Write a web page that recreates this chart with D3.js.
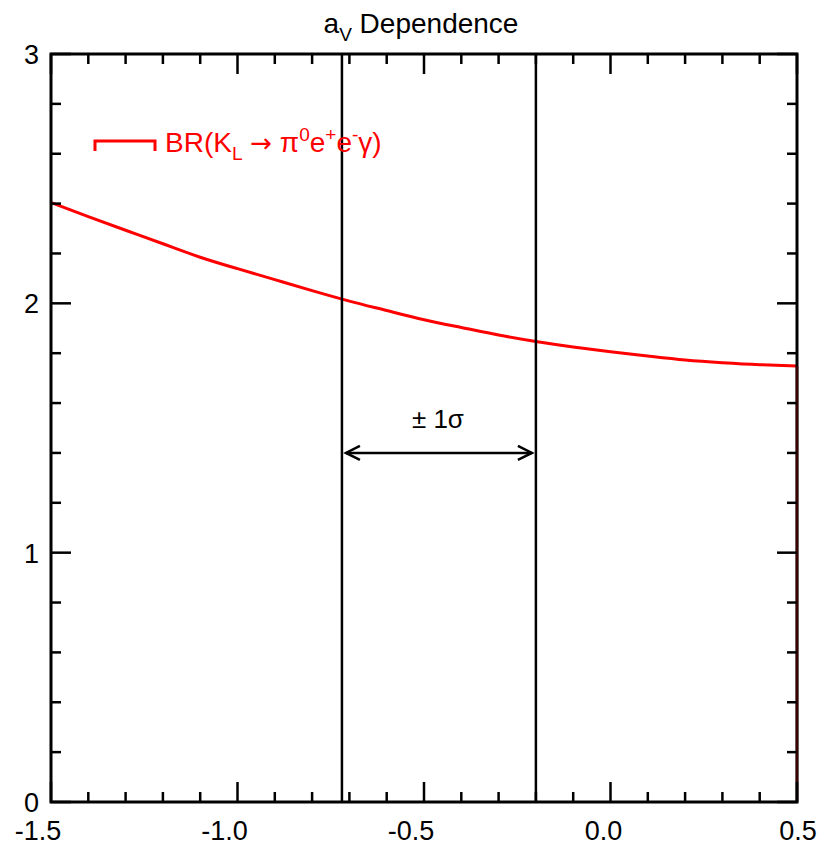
<!DOCTYPE html>
<html>
<head>
<meta charset="utf-8">
<script src="https://cdn.jsdelivr.net/npm/d3@7"></script>
<style>
  html, body { margin: 0; padding: 0; background: #fff; }
  svg { display: block; }
  text { font-family: "Liberation Sans", Arial, Helvetica, sans-serif; }
</style>
</head>
<body>
<script>
// a_V values and the corresponding branching ratio (units of 1e-8)
const aV = [-1.5, -1.4, -1.3, -1.2, -1.1, -1.0, -0.9, -0.8, -0.7, -0.6, -0.5,
            -0.4, -0.3, -0.2, -0.1, 0.0, 0.1, 0.2, 0.3, 0.4, 0.5];
const br = [2.404, 2.348, 2.293, 2.239, 2.185, 2.139, 2.095, 2.051, 2.009, 1.971, 1.934,
            1.903, 1.873, 1.847, 1.825, 1.806, 1.789, 1.773, 1.762, 1.754, 1.749];

// ±1σ band edges on a_V
const sigmaEdges = [-0.72, -0.20];

const xTickLabels = ["-1.5", "-1.0", "-0.5", "0.0", "0.5"];
const xTickValues = [-1.5, -1.0, -0.5, 0.0, 0.5];
const yTickLabels = ["0", "1", "2", "3"];
const yTickValues = [0, 1, 2, 3];

const W = 820, H = 845;
const margin = { left: 51, right: 23, top: 54, bottom: 43 };
const iw = W - margin.left - margin.right;
const ih = H - margin.top - margin.bottom;

const svg = d3.select("body").append("svg").attr("width", W).attr("height", H);
const g = svg.append("g").attr("transform", `translate(${margin.left},${margin.top})`);

const x = d3.scaleLinear().domain([-1.5, 0.5]).range([0, iw]);
const y = d3.scaleLinear().domain([0, 3]).range([ih, 0]);

const FS = 28, SUB = 19, LW = 2.5;

// curve
const pts = aV.map((v, i) => [v, br[i]]);
g.append("path")
  .datum(pts)
  .attr("fill", "none")
  .attr("stroke", "#ff0000")
  .attr("stroke-width", 3)
  .attr("d", d3.line().curve(d3.curveNatural).x(d => x(d[0])).y(d => y(d[1])));

// sigma lines
g.selectAll(".sig").data(sigmaEdges).enter().append("line")
  .attr("x1", d => x(d)).attr("x2", d => x(d))
  .attr("y1", 0).attr("y2", ih)
  .attr("stroke", "#000").attr("stroke-width", LW);

// frame
g.append("rect").attr("x", 0).attr("y", 0).attr("width", iw).attr("height", ih)
  .attr("fill", "none").attr("stroke", "#000").attr("stroke-width", LW + 0.5);

// curve closing edge along the right border, down to zero
g.append("line")
  .attr("x1", x(aV[aV.length - 1])).attr("x2", x(aV[aV.length - 1]))
  .attr("y1", y(br[br.length - 1])).attr("y2", y(0))
  .attr("stroke", "#3a0000").attr("stroke-width", 2.5);

// ticks (inward on all four sides), minor every 0.1 / 0.2
const xMinor = d3.range(-1.5, 0.5001, 0.1).map(v => +v.toFixed(2));
const yMinor = d3.range(0, 3.0001, 0.2).map(v => +v.toFixed(2));
const isMajorX = v => xTickValues.some(t => Math.abs(t - v) < 1e-6);
const isMajorY = v => yTickValues.some(t => Math.abs(t - v) < 1e-6);

const tickG = g.append("g").attr("class", "ticks");
xMinor.forEach(v => {
  const L = isMajorX(v) ? 20 : 10;
  tickG.append("line").attr("x1", x(v)).attr("x2", x(v)).attr("y1", ih).attr("y2", ih - L)
    .attr("stroke", "#000").attr("stroke-width", LW);
  tickG.append("line").attr("x1", x(v)).attr("x2", x(v)).attr("y1", 0).attr("y2", L)
    .attr("stroke", "#000").attr("stroke-width", LW);
});
yMinor.forEach(v => {
  const L = isMajorY(v) ? 20 : 10;
  tickG.append("line").attr("x1", 0).attr("x2", L).attr("y1", y(v)).attr("y2", y(v))
    .attr("stroke", "#000").attr("stroke-width", LW);
  tickG.append("line").attr("x1", iw).attr("x2", iw - L).attr("y1", y(v)).attr("y2", y(v))
    .attr("stroke", "#000").attr("stroke-width", LW);
});

// tick labels; signed labels sit slightly left of their tick
const labelShift = v => (v < 0 ? -13 : v === 0 ? -7 : 1);
g.selectAll(".xl").data(xTickValues).enter().append("text")
  .attr("x", d => x(d) + labelShift(d)).attr("y", ih + 38)
  .attr("text-anchor", "middle").attr("font-size", 27)
  .text((d, i) => xTickLabels[i]);
g.selectAll(".yl").data(yTickValues).enter().append("text")
  .attr("x", -12).attr("y", d => y(d) + 10)
  .attr("text-anchor", "end").attr("font-size", 27)
  .text((d, i) => yTickLabels[i]);

// title
const title = svg.append("text").attr("x", margin.left + iw / 2 - 3).attr("y", 33)
  .attr("text-anchor", "middle").attr("font-size", FS);
title.append("tspan").text("a");
title.append("tspan").attr("font-size", SUB).attr("dy", 8).text("V");
title.append("tspan").attr("dy", -8).text(" Dependence");

// legend
const lg = g.append("g").attr("transform", `translate(${95 - margin.left},${141 - margin.top})`);
lg.append("path").attr("d", "M0,10V0H60V10").attr("fill", "none")
  .attr("stroke", "#ff0000").attr("stroke-width", 3);
const lt = lg.append("text").attr("x", 70).attr("y", 11).attr("font-size", FS).attr("fill", "#ff0000");
lt.append("tspan").text("BR(K");
lt.append("tspan").attr("font-size", SUB).attr("dy", 8).text("L");
lt.append("tspan").attr("dy", -8).text(" ");
lt.append("tspan").attr("font-family", "DejaVu Sans").attr("font-size", 26).text("\u2192");
lt.append("tspan").text(" \u03c0");
lt.append("tspan").attr("font-size", SUB).attr("dy", -11).text("0");
lt.append("tspan").attr("dy", 11).text("e");
lt.append("tspan").attr("font-size", SUB).attr("dy", -11).text("+");
lt.append("tspan").attr("dy", 11).text("e");
lt.append("tspan").attr("font-size", SUB).attr("dy", -11).text("-");
lt.append("tspan").attr("dy", 11).text("\u03b3)");

// ±1σ arrow between the band edges
const arrowY = y(1.4);
const ax1 = x(sigmaEdges[0]) + 4, ax2 = x(sigmaEdges[1]) - 4;
g.append("line").attr("x1", ax1).attr("x2", ax2).attr("y1", arrowY).attr("y2", arrowY)
  .attr("stroke", "#000").attr("stroke-width", LW);
g.append("path")
  .attr("d", `M${ax1 + 14},${arrowY - 7}L${ax1},${arrowY}L${ax1 + 14},${arrowY + 7}` +
             `M${ax2 - 14},${arrowY - 7}L${ax2},${arrowY}L${ax2 - 14},${arrowY + 7}`)
  .attr("fill", "none").attr("stroke", "#000").attr("stroke-width", LW);
g.append("text").attr("x", (ax1 + ax2) / 2 - 1).attr("y", arrowY - 25)
  .attr("text-anchor", "middle").attr("font-size", 26).text("\u00b1 1\u03c3");
</script>
</body>
</html>
